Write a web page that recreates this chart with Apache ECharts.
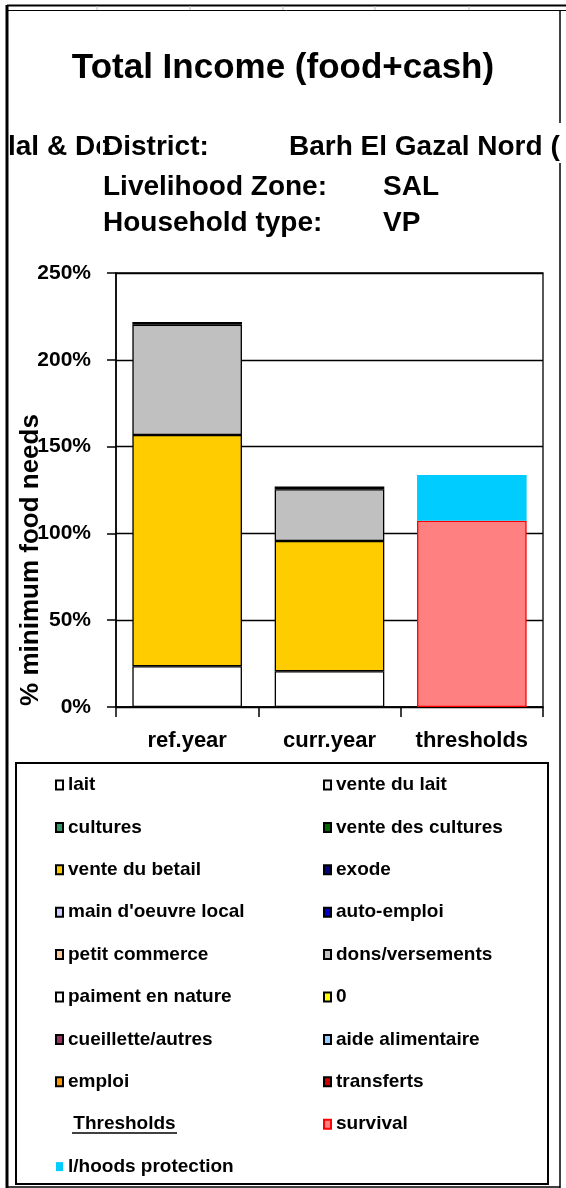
<!DOCTYPE html>
<html>
<head>
<meta charset="utf-8">
<script src="https://cdn.jsdelivr.net/npm/echarts@6/dist/echarts.min.js"></script>
<style>
html,body{margin:0;padding:0;background:#fff;}
#c{width:566px;height:1188px;}
</style>
</head>
<body>
<div id="c"></div>
<script>
// ---- data ----
const categories = ['ref.year', 'curr.year', 'thresholds'];
const yTicks = [0, 50, 100, 150, 200, 250];
const lait = [23.5, 20.6, '-'];
const venteDuLait = ['-', '-', '-'];
const cultures = ['-', '-', '-'];
const venteDesCultures = ['-', '-', '-'];
const venteDuBetail = [133.2, 75.0, '-'];
const exode = ['-', '-', '-'];
const mainOeuvre = ['-', '-', '-'];
const autoEmploi = ['-', '-', '-'];
const petitCommerce = ['-', '-', '-'];
const donsVersements = [63.5, 29.8, '-'];
const paimentNature = [1.6, 1.6, '-'];
const zeroSeries = ['-', '-', '-'];
const cueillette = ['-', '-', '-'];
const aideAlimentaire = ['-', '-', '-'];
const emploi = ['-', '-', '-'];
const transferts = ['-', '-', '-'];
const survival = ['-', '-', 107.3];
const lhoods = ['-', '-', 26.4];

const FONT = '"Liberation Sans", Arial, sans-serif';

const seriesDefs = [
  ['lait', lait, '#FFFFFF', '#000'],
  ['vente du lait', venteDuLait, '#EAEAEA', '#000'],
  ['cultures', cultures, '#339966', '#000'],
  ['vente des cultures', venteDesCultures, '#006600', '#000'],
  ['vente du betail', venteDuBetail, '#FFCC00', '#000'],
  ['exode', exode, '#000080', '#000'],
  ["main d'oeuvre local", mainOeuvre, '#CCCCFF', '#000'],
  ['auto-emploi', autoEmploi, '#0000CC', '#000'],
  ['petit commerce', petitCommerce, '#FFCC99', '#000'],
  ['dons/versements', donsVersements, '#C0C0C0', '#000'],
  ['paiment en nature', paimentNature, '#FFFFFF', '#000'],
  ['0', zeroSeries, '#FFFF00', '#000'],
  ['cueillette/autres', cueillette, '#993366', '#000'],
  ['aide alimentaire', aideAlimentaire, '#99CCFF', '#000'],
  ['emploi', emploi, '#FF9900', '#000'],
  ['transferts', transferts, '#CC0000', '#000'],
  ['survival', survival, '#FF8080', '#FF0000'],
  ['l/hoods protection', lhoods, '#00CCFF', null]
];

const series = seriesDefs.map(function (d) {
  return {
    name: d[0],
    type: 'bar',
    stack: 'total',
    barWidth: '77%',
    data: d[1],
    itemStyle: {
      color: d[2],
      borderColor: d[3] || d[2],
      borderWidth: d[0] === 'paiment en nature' ? 2 : (d[3] ? 1.3 : 0)
    },
    emphasis: { disabled: true },
    silent: true
  };
});
// dummy entry for the "Thresholds" heading in the legend
series.push({
  name: 'Thresholds', type: 'bar', stack: 'total', data: [],
  itemStyle: { color: 'rgba(0,0,0,0)', borderWidth: 0 }
});

const leftLegend = ['lait', 'cultures', 'vente du betail', "main d'oeuvre local", 'petit commerce',
  'paiment en nature', 'cueillette/autres', 'emploi', 'Thresholds', 'l/hoods protection'];
const rightLegend = ['vente du lait', 'vente des cultures', 'exode', 'auto-emploi', 'dons/versements',
  '0', 'aide alimentaire', 'transferts', 'survival'];

const legendCommon = {
  orient: 'vertical',
  top: 775,
  padding: 0,
  icon: 'rect',
  itemWidth: 7,
  itemHeight: 9,
  itemGap: 22.4,
  selectedMode: false,
  formatter: function (n) { return n === 'Thresholds' ? ' ' + n : n; },
  textStyle: { fontFamily: FONT, fontWeight: 'bold', fontSize: 19, color: '#000', lineHeight: 20 }
};

function txt(x, y, text, size, align) {
  return {
    type: 'text', x: x, y: y, silent: true,
    style: { text: text, font: 'bold ' + size + 'px ' + FONT, fill: '#000', align: align || 'left', verticalAlign: 'middle' }
  };
}
function ln(x1, y1, x2, y2, w, c) {
  return { type: 'line', silent: true, shape: { x1: x1, y1: y1, x2: x2, y2: y2 }, style: { stroke: c || '#000', lineWidth: w } };
}

const chart = echarts.init(document.getElementById('c'), null, { renderer: 'canvas' });
chart.setOption({
  backgroundColor: '#fff',
  animation: false,
  grid: { left: 116, right: 23, top: 273, bottom: 481, containLabel: false, outerBoundsMode: 'none',
    show: true, borderColor: '#000', borderWidth: 1.3, backgroundColor: 'transparent' },
  xAxis: {
    type: 'category', data: categories,
    axisLine: { lineStyle: { color: '#000', width: 1.5 } },
    axisTick: { show: true, length: 10, lineStyle: { color: '#000', width: 1.5 } },
    axisLabel: { interval: 0, hideOverlap: false, margin: 23, fontFamily: FONT, fontWeight: 'bold', fontSize: 22, color: '#000' }
  },
  yAxis: {
    type: 'value', min: yTicks[0], max: yTicks[yTicks.length - 1], interval: 50,
    axisLine: { show: true, lineStyle: { color: '#000', width: 1.5 } },
    axisTick: { show: true, length: 9, lineStyle: { color: '#000', width: 1.5 } },
    splitLine: { lineStyle: { color: '#000', width: 1.3 } },
    axisLabel: { margin: 25, fontFamily: FONT, fontWeight: 'bold', fontSize: 21, color: '#000',
      formatter: function (v) { return v + '%'; } }
  },
  legend: [
    Object.assign({}, legendCommon, { left: 55, data: leftLegend }),
    Object.assign({}, legendCommon, { left: 323, data: rightLegend })
  ],
  series: series,
  graphic: [
    // outer frame
    ln(7, 5, 7, 1188, 3),
    ln(7, 5.5, 566, 5.5, 2),
    ln(7, 10.5, 566, 10.5, 1),
    ln(560, 10, 560, 123, 1.5),
    ln(560, 163, 560, 1188, 1.5),
    ln(7, 1187, 560, 1187, 1.5),
    ln(97, 6, 97, 10, 1, '#bbb'),
    ln(190, 6, 190, 10, 1, '#bbb'),
    ln(283, 6, 283, 10, 1, '#bbb'),
    ln(375, 6, 375, 10, 1, '#bbb'),
    ln(469, 6, 469, 10, 1, '#bbb'),
    // legend box
    { type: 'rect', silent: true, shape: { x: 16, y: 763, width: 532, height: 421 },
      style: { fill: 'none', stroke: '#000', lineWidth: 2 } },
    // Thresholds underline
    ln(72, 1133, 177, 1133, 1.5),
    // titles
    txt(283, 68, 'Total Income (food+cash)', 35, 'center'),
    txt(8, 147, 'lal & Dc', 28),
    { type: 'rect', silent: true, shape: { x: 100, y: 128, width: 3, height: 36 }, style: { fill: '#fff' } },
    txt(103, 147, 'District:', 28),
    txt(289, 147, 'Barh El Gazal Nord (', 28),
    txt(103, 187, 'Livelihood Zone:', 28),
    txt(383, 187, 'SAL', 28),
    txt(103, 223, 'Household type:', 28),
    txt(383, 223, 'VP', 28),
    // y axis title
    { type: 'text', x: 31, y: 560, rotation: Math.PI / 2, silent: true,
      style: { text: '% minimum food needs', font: 'bold 26px ' + FONT, fill: '#000', align: 'center', verticalAlign: 'middle' } }
  ]
});
</script>
</body>
</html>
